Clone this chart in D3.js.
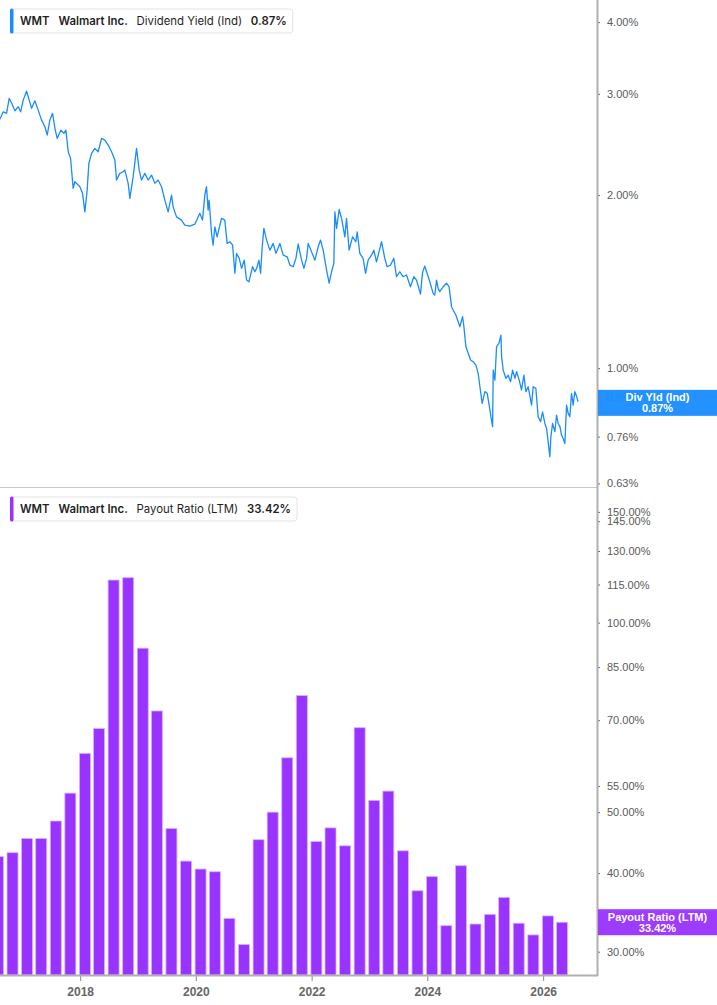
<!DOCTYPE html>
<html><head><meta charset="utf-8">
<script src="https://cdn.jsdelivr.net/npm/d3@7"></script>
<style>body{margin:0;background:#fff;} svg{display:block}</style>
</head><body>
<svg id="chart" width="717" height="1005"></svg>
<script>
// ---------- DATA ----------
const yieldYears = [
2016.612,2016.670,2016.728,2016.773,2016.815,2016.872,2016.929,2016.970,2017.015,2017.074,
2017.119,2017.160,2017.217,2017.274,2017.333,2017.390,2017.430,2017.476,2017.523,2017.563,
2017.603,2017.667,2017.718,2017.753,2017.793,2017.834,2017.879,2017.908,2017.995,2018.041,
2018.081,2018.121,2018.150,2018.197,2018.254,2018.311,2018.370,2018.427,2018.484,2018.543,
2018.600,2018.629,2018.686,2018.743,2018.772,2018.830,2018.859,2018.916,2018.975,2019.020,
2019.061,2019.118,2019.175,2019.234,2019.291,2019.348,2019.407,2019.464,2019.521,2019.580,
2019.607,2019.666,2019.752,2019.809,2019.896,2019.982,2020.069,2020.115,2020.155,2020.184,
2020.212,2020.229,2020.271,2020.298,2020.328,2020.367,2020.402,2020.443,2020.500,2020.540,
2020.587,2020.634,2020.673,2020.702,2020.748,2020.789,2020.834,2020.875,2020.915,2020.979,
2021.019,2021.048,2021.088,2021.117,2021.145,2021.174,2021.221,2021.278,2021.335,2021.382,
2021.451,2021.508,2021.577,2021.624,2021.681,2021.728,2021.767,2021.826,2021.866,2021.912,
2021.940,2021.999,2022.056,2022.113,2022.154,2022.199,2022.258,2022.303,2022.344,2022.384,
2022.401,2022.431,2022.476,2022.517,2022.574,2022.603,2022.648,2022.707,2022.764,2022.787,
2022.833,2022.890,2022.932,2022.977,2023.035,2023.075,2023.122,2023.208,2023.265,2023.305,
2023.364,2023.421,2023.467,2023.524,2023.581,2023.640,2023.709,2023.766,2023.813,2023.882,
2023.917,2023.956,2023.996,2024.043,2024.100,2024.129,2024.159,2024.186,2024.216,2024.273,
2024.331,2024.376,2024.418,2024.445,2024.492,2024.532,2024.561,2024.608,2024.631,2024.665,
2024.705,2024.746,2024.791,2024.838,2024.877,2024.907,2024.946,2024.993,2025.033,2025.067,
2025.097,2025.126,2025.137,2025.166,2025.195,2025.235,2025.270,2025.282,2025.309,2025.356,
2025.396,2025.437,2025.472,2025.512,2025.541,2025.586,2025.627,2025.667,2025.702,2025.741,
2025.800,2025.828,2025.874,2025.914,2025.956,2025.990,2026.030,2026.059,2026.087,2026.116,
2026.134,2026.163,2026.203,2026.232,2026.260,2026.290,2026.319,2026.346,2026.376,2026.405,
2026.433,2026.462,2026.491,2026.519,2026.548,2026.578,2026.605];

const yieldValues = [
2.709,2.792,2.775,2.946,2.892,2.803,2.849,2.792,2.926,3.034,
2.926,2.831,2.918,2.811,2.701,2.630,2.544,2.701,2.775,2.613,
2.510,2.595,2.561,2.595,2.379,2.317,2.054,2.110,2.068,2.014,
1.870,2.040,2.271,2.364,2.412,2.379,2.510,2.493,2.444,2.379,
2.301,2.124,2.182,2.196,2.211,2.096,1.974,2.153,2.412,2.211,
2.124,2.182,2.124,2.167,2.096,2.124,2.068,1.960,1.870,2.000,
1.908,1.833,1.809,1.773,1.766,1.780,1.859,1.809,2.000,2.068,
1.883,1.960,1.716,1.637,1.761,1.692,1.750,1.822,1.809,1.648,
1.659,1.637,1.462,1.583,1.552,1.491,1.541,1.423,1.413,1.501,
1.471,1.491,1.541,1.462,1.626,1.750,1.670,1.604,1.648,1.583,
1.648,1.572,1.562,1.511,1.501,1.552,1.644,1.541,1.491,1.552,
1.648,1.593,1.541,1.626,1.670,1.604,1.481,1.405,1.471,1.521,
1.870,1.750,1.888,1.822,1.692,1.822,1.604,1.692,1.659,1.726,
1.583,1.552,1.462,1.541,1.572,1.604,1.530,1.659,1.552,1.501,
1.511,1.552,1.442,1.471,1.442,1.452,1.385,1.442,1.423,1.345,
1.466,1.505,1.462,1.413,1.349,1.340,1.423,1.376,1.358,1.385,
1.405,1.385,1.279,1.262,1.237,1.204,1.180,1.229,1.180,1.090,
1.061,1.033,1.026,1.012,0.979,0.928,0.868,0.910,0.904,0.862,
0.823,0.791,0.992,0.953,1.090,1.104,1.141,1.047,0.992,0.960,
0.972,0.947,0.992,0.960,0.986,0.953,0.916,0.972,0.910,0.928,
0.862,0.928,0.922,0.823,0.807,0.839,0.801,0.785,0.744,0.701,
0.759,0.801,0.775,0.828,0.801,0.791,0.764,0.754,0.739,0.862,
0.834,0.823,0.904,0.862,0.910,0.893,0.874];

const payoutQuarters = [
"2016-07-31","2016-10-31","2017-01-31","2017-04-30","2017-07-31","2017-10-31","2018-01-31","2018-04-30",
"2018-07-31","2018-10-31","2019-01-31","2019-04-30","2019-07-31","2019-10-31","2020-01-31","2020-04-30",
"2020-07-31","2020-10-31","2021-01-31","2021-04-30","2021-07-31","2021-10-31","2022-01-31","2022-04-30",
"2022-07-31","2022-10-31","2023-01-31","2023-04-30","2023-07-31","2023-10-31","2024-01-31","2024-04-30",
"2024-07-31","2024-10-31","2025-01-31","2025-04-30","2025-07-31","2025-10-31","2026-01-31","2026-04-30"];
const payoutValues = [
42.5,43.1,45.4,45.4,48.4,53.6,62.0,67.9,
116.9,117.9,91.1,72.4,47.1,41.8,40.6,40.2,
33.9,30.8,45.2,50.0,61.0,76.6,44.9,47.2,
44.2,68.1,52.2,54.0,43.4,37.5,39.5,33.0,
41.1,33.2,34.4,36.6,33.3,31.9,34.2,33.42];

const yieldTicks = [4, 3, 2, 1, 0.89, 0.76, 0.63];
const payoutTicks = [150, 145, 130, 115, 100, 85, 70, 55, 50, 40, 30];
const yearTicks = [2018, 2020, 2022, 2024, 2026];

const ticker = "WMT", company = "Walmart Inc.";
const yieldName = "Dividend Yield (Ind)", yieldShort = "Div Yld (Ind)", yieldLast = 0.87;
const payoutName = "Payout Ratio (LTM)", payoutLast = 33.42;

// ---------- SETUP ----------
const blue = "#1a8cff", purple = "#9933ff";
const svg = d3.select("#chart");
const plotR = 597;
const top1 = 0, bot1 = 487, top2 = 497, bot2 = 975;

function decYear(t){
  const y = Math.floor(t);
  const s = Date.UTC(y,0,1), e = Date.UTC(y+1,0,1);
  return new Date(s + (t - y) * (e - s));
}
const parse = d3.utcParse("%Y-%m-%d");

const x = d3.scaleUtc().domain([Date.UTC(2016,7,13), Date.UTC(2026,11,7)]).range([0, plotR]);
const y1 = d3.scaleLog().domain([0.621, 4.37]).range([bot1, top1]);
const y2 = d3.scaleLog().domain([27.55, 158.4]).range([bot2, top2]);

const defs = svg.append("defs");
defs.append("clipPath").attr("id","c1").append("rect").attr("x",0).attr("y",top1).attr("width",plotR).attr("height",bot1-top1);
defs.append("clipPath").attr("id","c2").append("rect").attr("x",0).attr("y",top2-10).attr("width",plotR).attr("height",bot2-top2+10);

// separator line between panels
svg.append("line").attr("x1",0).attr("x2",plotR).attr("y1",bot1+0.5).attr("y2",bot1+0.5)
  .attr("stroke","#c8c8c8").attr("stroke-width",1);

// ---------- LINE ----------
const lineData = yieldYears.map((t,i)=>({d:decYear(t), v:yieldValues[i]}));
svg.append("g").attr("clip-path","url(#c1)")
  .append("path").datum(lineData)
  .attr("fill","none").attr("stroke",blue).attr("stroke-width",1.3).attr("stroke-linejoin","round")
  .attr("d", d3.line().x(d=>x(d.d)).y(d=>y1(d.v)));

// ---------- BARS ----------
const barData = payoutQuarters.map((q,i)=>({d:parse(q), v:payoutValues[i]}));
const halfW = 5.5;
svg.append("g").attr("clip-path","url(#c2)")
  .selectAll("rect").data(barData).join("rect")
  .attr("x", d=>x(d.d)-halfW).attr("width", halfW*2)
  .attr("y", d=>y2(d.v)).attr("height", d=>bot2 - y2(d.v))
  .attr("fill", purple).attr("stroke","#d6b3ff").attr("stroke-width",0.8);

// ---------- AXES ----------
function styleY(g){
  g.select(".domain").remove();
  g.selectAll(".tick line").attr("stroke","#666").attr("stroke-width",1);
  g.selectAll(".tick text").attr("fill","#5a5a5a").attr("font-family","'Liberation Sans', Arial, sans-serif").attr("font-size",11);
}
svg.append("g").attr("transform",`translate(${plotR},0)`)
  .call(d3.axisRight(y1).tickValues(yieldTicks).tickSize(3).tickPadding(7).tickFormat(d=>d.toFixed(2)+"%"))
  .call(styleY);
svg.append("g").attr("transform",`translate(${plotR},0)`)
  .call(d3.axisRight(y2).tickValues(payoutTicks).tickSize(3).tickPadding(7).tickFormat(d=>d.toFixed(2)+"%"))
  .call(styleY);

// vertical axis line
svg.append("line").attr("x1",plotR+0.5).attr("x2",plotR+0.5).attr("y1",0).attr("y2",bot2+1)
  .attr("stroke","#b0b0b0").attr("stroke-width",2);

// x axis
const xa = svg.append("g").attr("transform",`translate(0,${bot2})`)
  .call(d3.axisBottom(x).tickValues(yearTicks.map(yy=>new Date(Date.UTC(yy,0,1)))).tickSize(6).tickPadding(6).tickFormat(d3.utcFormat("%Y")));
xa.select(".domain").remove();
xa.selectAll(".tick line").attr("stroke","#888");
xa.selectAll(".tick text").attr("fill","#666").attr("font-family","'Liberation Sans', Arial, sans-serif")
  .attr("font-size",12).attr("font-weight","bold");
svg.append("line").attr("x1",0).attr("x2",plotR+1).attr("y1",bot2+0.5).attr("y2",bot2+0.5)
  .attr("stroke","#b0b0b0").attr("stroke-width",2);

// ---------- LAST VALUE TAGS ----------
function tag(yPos, color, l1, l2){
  const g = svg.append("g");
  g.append("rect").attr("x",plotR+1).attr("y",yPos-13).attr("width",717-plotR).attr("height",26)
    .attr("fill",color).attr("fill-opacity",0.96);
  const cx = plotR + 1 + (717-plotR-1)/2;
  g.append("text").attr("x",cx).attr("y",yPos-5.5).attr("dy","0.35em").attr("text-anchor","middle")
    .attr("fill","#fff").attr("font-family","'Liberation Sans', Arial, sans-serif").attr("font-weight","bold").attr("font-size",11).text(l1);
  g.append("text").attr("x",cx).attr("y",yPos+5.5).attr("dy","0.35em").attr("text-anchor","middle")
    .attr("fill","#fff").attr("font-family","'Liberation Sans', Arial, sans-serif").attr("font-weight","bold").attr("font-size",11).text(l2);
}
tag(y1(yieldLast), blue, yieldShort, yieldLast.toFixed(2)+"%");
tag(y2(payoutLast), purple, payoutName, payoutLast.toFixed(2)+"%");

// ---------- LEGENDS ----------
function legend(yTop, color, name, val){
  const g = svg.append("g");
  const box = g.append("rect").attr("x",10.5).attr("y",yTop+0.5).attr("height",24).attr("rx",3)
    .attr("fill","#fff").attr("stroke","#e3e3e3");
  g.append("rect").attr("x",10).attr("y",yTop).attr("width",3.5).attr("height",25).attr("rx",1.5).attr("fill",color);
  const parts = [[ticker,600],[company,600],[name,400],[val,600]];
  let cx = 20;
  parts.forEach(([t,w])=>{
    const tx = g.append("text").attr("x",cx).attr("y",yTop+12.5).attr("dy","0.35em")
      .attr("font-family","Inter, 'Noto Sans', sans-serif").attr("font-size",11.4).attr("font-weight",w)
      .attr("fill","#1f1f1f").text(t);
    cx += tx.node().getComputedTextLength() + 8.8;
  });
  box.attr("width", cx - 8.8 + 6 - 10.5);
}
legend(8.5, blue, yieldName, yieldLast.toFixed(2)+"%");
legend(496.5, purple, payoutName, payoutLast.toFixed(2)+"%");
</script>
</body></html>
